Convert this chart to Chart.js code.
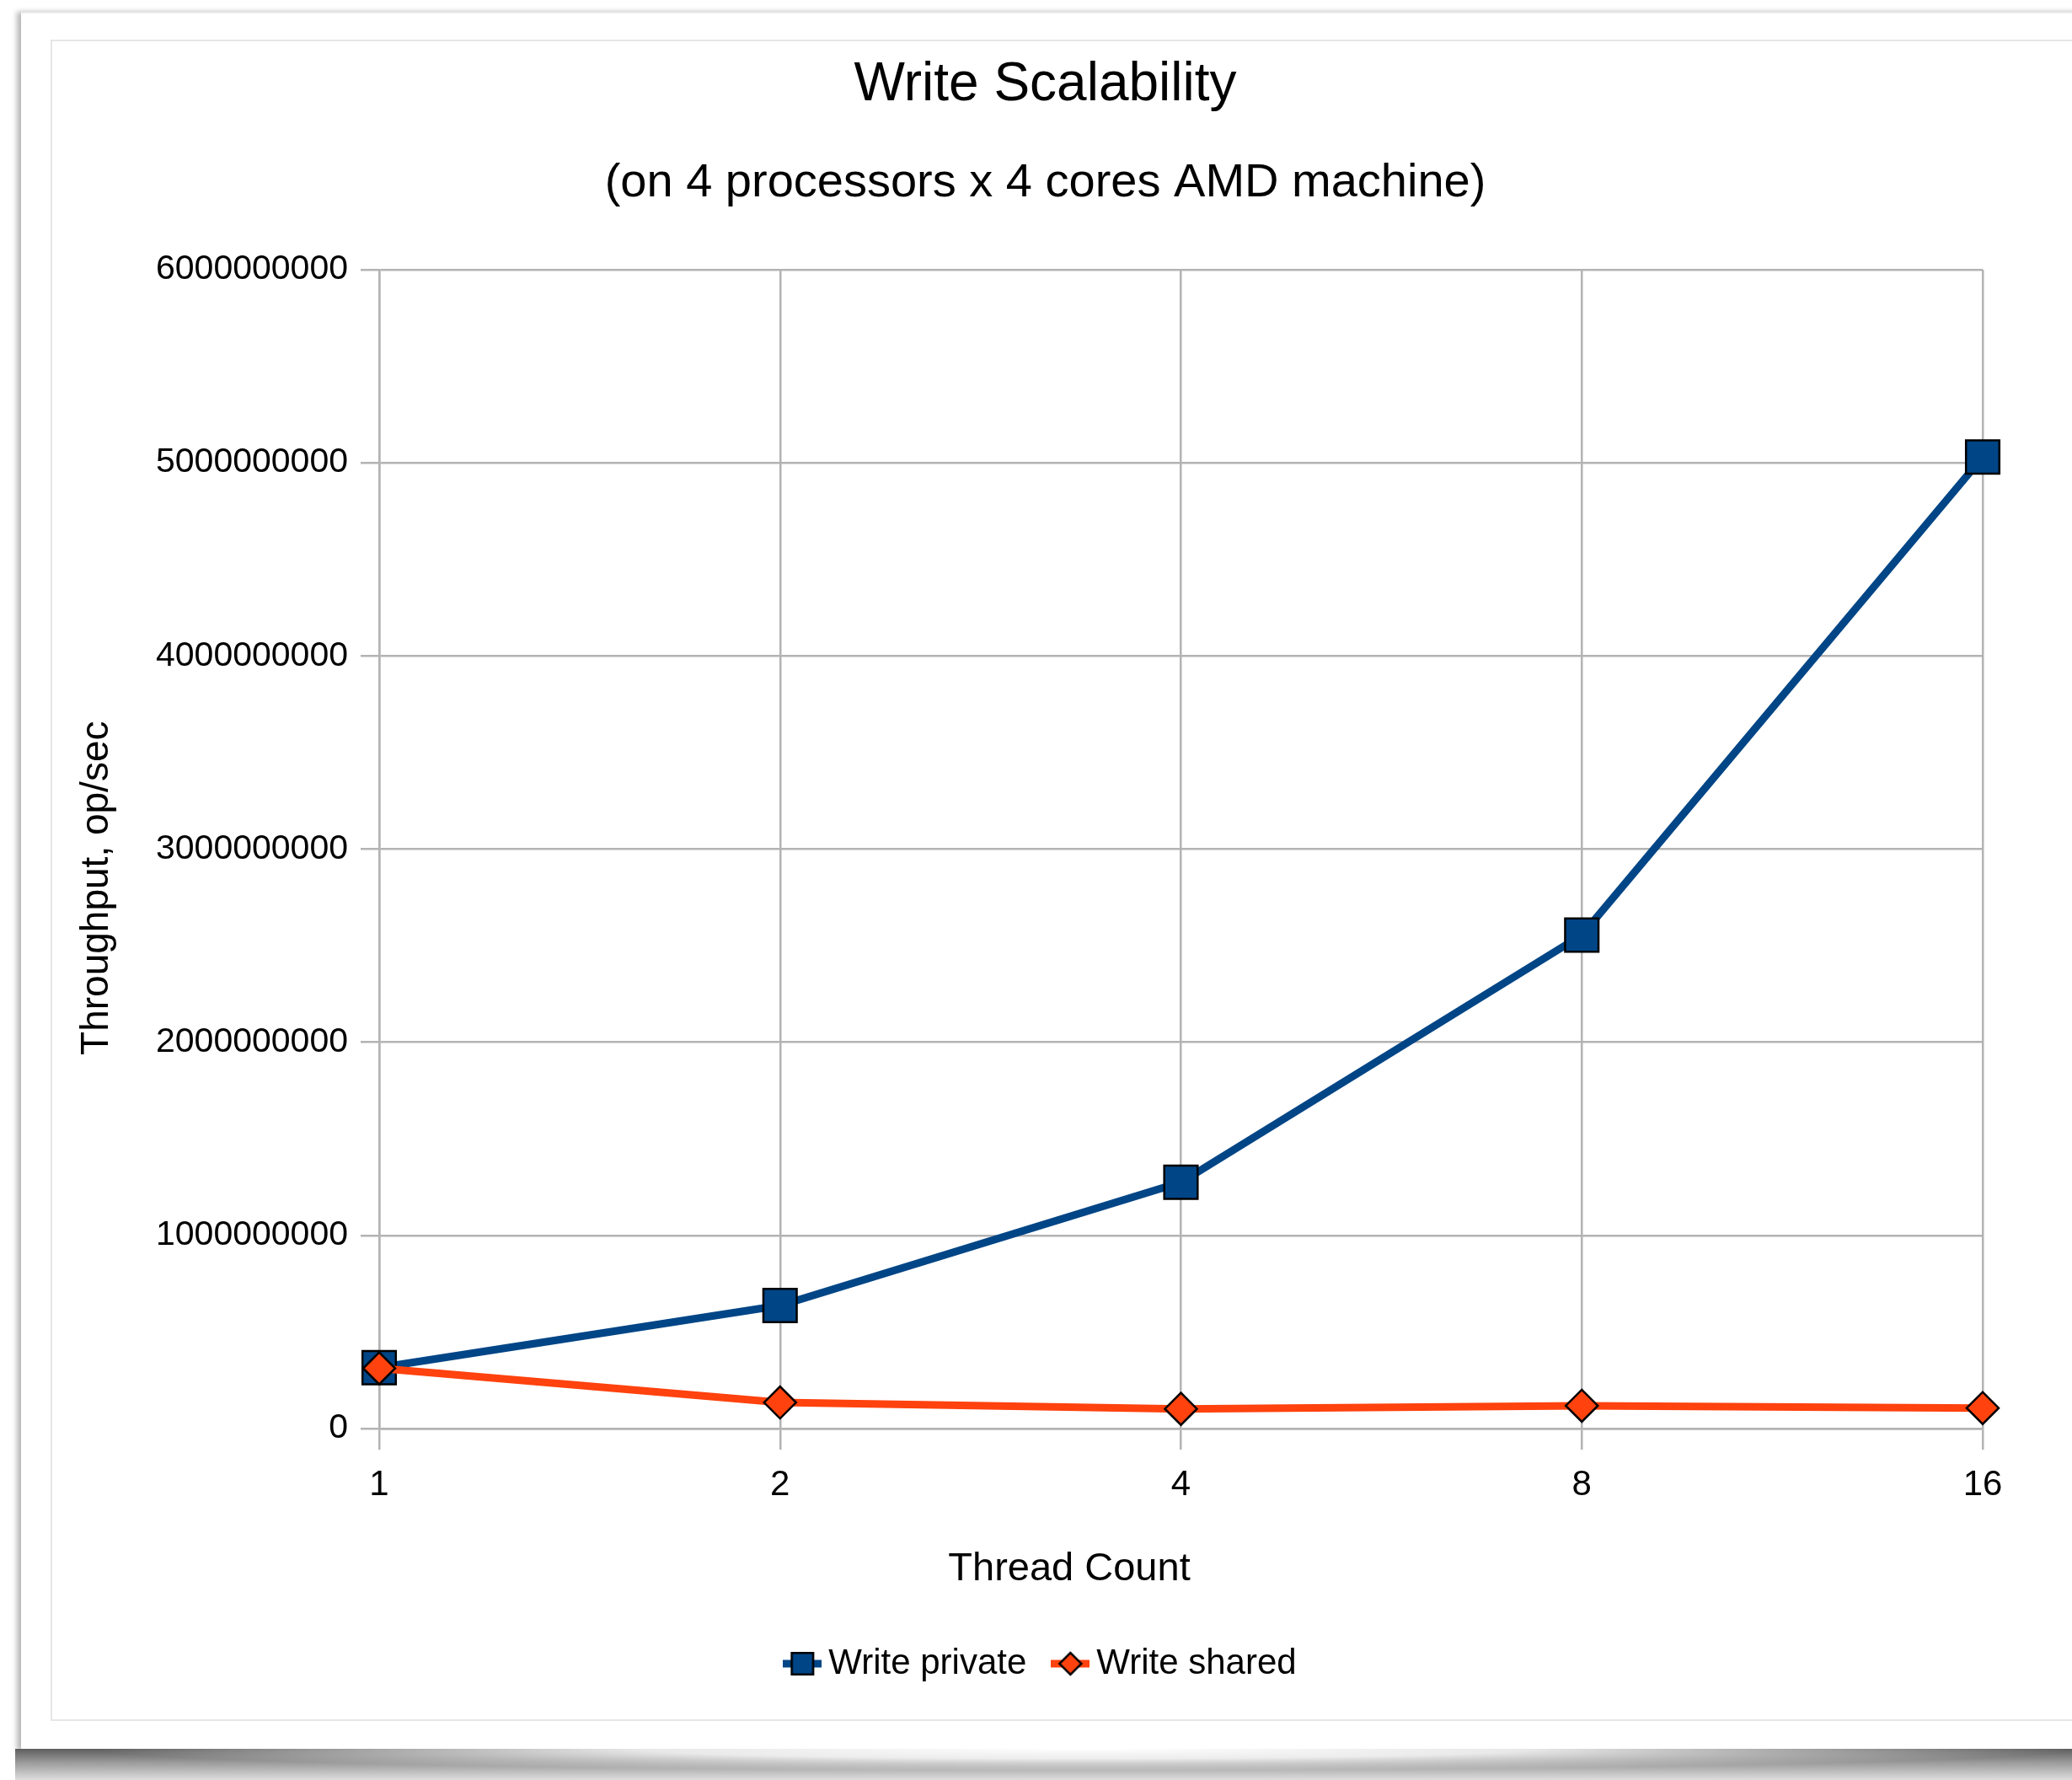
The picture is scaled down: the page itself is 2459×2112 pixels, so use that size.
<!DOCTYPE html>
<html>
<head>
<meta charset="utf-8">
<title>Write Scalability</title>
<script src="https://cdn.jsdelivr.net/npm/chart.js@4.4.1/dist/chart.umd.min.js"></script>
<style>
  html, body { margin: 0; padding: 0; background: #fff; }
  body { width: 2459px; height: 2112px; position: relative; overflow: hidden; }
  .sheet {
    position: absolute; left: 25px; top: 14px; right: -40px; height: 2061px;
    background: #fff; border-top: 2px solid #ededed;
    box-shadow: -5px 0 6px rgba(0, 0, 0, 0.28);
  }
  .frame {
    position: absolute; left: 60px; top: 47px; right: -10px; height: 1995px;
    border: 2px solid #e6e6e6; box-sizing: border-box;
  }
  .curl {
    position: absolute; left: 18px; right: 0; top: 2075px; height: 37px;
    background:
      radial-gradient(ellipse 48% 70% at 52% 0%, #fff 0%, rgba(255,255,255,0.85) 45%, rgba(255,255,255,0) 100%),
      linear-gradient(to bottom, #5e5e5e 0%, #9c9c9c 45%, #dedede 100%);
  }
  .wrap { position: absolute; left: 0; top: 0; width: 2459px; height: 2112px; }
</style>
</head>
<body>
<div class="sheet"></div>
<div class="frame"></div>
<div class="curl"></div>
<div class="wrap"><canvas id="chart"></canvas></div>
<script>
// thread counts on the x axis
const threadCounts = ['1', '2', '4', '8', '16'];

// throughput, op/sec
const writePrivate = [315000000, 637000000, 1275000000, 2555000000, 5030000000];
const writeShared = [312000000, 135000000, 102000000, 118000000, 106000000];

const seriesNames = ['Write private', 'Write shared'];
const seriesColors = ['#004586', '#ff420e'];

const yMax = 6000000000;
const yStep = 1000000000;

const FONT = '"Liberation Sans", Arial, sans-serif';

// little line-with-marker glyph for the legend
function legendSymbol(color, style) {
    const c = document.createElement('canvas');
    c.width = 46;
    c.height = 30;
    const g = c.getContext('2d');
    g.strokeStyle = color;
    g.lineWidth = 9;
    g.beginPath();
    g.moveTo(0, 15);
    g.lineTo(46, 15);
    g.stroke();
    g.fillStyle = color;
    g.strokeStyle = '#000';
    g.lineWidth = 2.5;
    Chart.helpers.drawPoint(g, { pointStyle: style, radius: style === 'rect' ? 18 : 13, borderWidth: 2.5 }, 23, 15);
    return c;
}

const tickLen = { x: 25, y: 22 };
const tickPad = { x: 17, y: 15 };
const tickFont = { x: 42, y: 41 };

// axis titles are centred on the whole diagram (labels included), not just the plot box
const axisTitles = {
    id: 'axisTitles',
    afterDraw(chart) {
        const { ctx, chartArea: area, scales } = chart;
        ctx.save();
        ctx.fillStyle = '#000';
        ctx.textAlign = 'center';
        ctx.textBaseline = 'middle';

        ctx.font = tickFont.y + 'px ' + FONT;
        const widest = Math.max(...scales.y.ticks.map(t => ctx.measureText(String(t.label)).width));
        const labelsLeft = area.left - tickLen.y - tickPad.y - widest;
        const labelsBottom = area.bottom + tickLen.x + tickPad.x + tickFont.x * 1.2;

        ctx.font = '47px ' + FONT;
        ctx.fillText('Thread Count', (labelsLeft + area.right) / 2, area.bottom + 167);

        ctx.translate(area.left - 335, (area.top + labelsBottom) / 2);
        ctx.rotate(-Math.PI / 2);
        ctx.font = '46px ' + FONT;
        ctx.fillText('Throughput, op/sec', 0, 0);
        ctx.restore();
    }
};

const symbols = [legendSymbol(seriesColors[0], 'rect'), legendSymbol(seriesColors[1], 'rectRot')];

new Chart(document.getElementById('chart'), {
    type: 'line',
    data: {
        labels: threadCounts,
        datasets: [
            {
                label: seriesNames[0],
                data: writePrivate,
                borderColor: seriesColors[0],
                backgroundColor: seriesColors[0],
                borderWidth: 9,
                tension: 0,
                pointStyle: 'rect',
                pointRadius: 28,
                pointBackgroundColor: seriesColors[0],
                pointBorderColor: '#000',
                pointBorderWidth: 2.5,
                order: 1
            },
            {
                label: seriesNames[1],
                data: writeShared,
                borderColor: seriesColors[1],
                backgroundColor: seriesColors[1],
                borderWidth: 9,
                tension: 0,
                pointStyle: 'rectRot',
                pointRadius: 19,
                pointBackgroundColor: seriesColors[1],
                pointBorderColor: '#000',
                pointBorderWidth: 2.5,
                order: 0
            }
        ]
    },
    options: {
        responsive: true,
        maintainAspectRatio: false,
        animation: false,
        events: [],
        layout: { padding: { top: 47, left: 60, right: 38, bottom: 107 } },
        scales: {
            x: {
                offset: false,
                grid: { color: '#b3b3b3', lineWidth: 2.5, tickLength: tickLen.x },
                border: { color: '#b3b3b3', width: 2.5 },
                ticks: { color: '#000', padding: tickPad.x, font: { family: FONT, size: tickFont.x } },
                afterFit(scale) { scale.height = 216; }
            },
            y: {
                min: 0,
                max: yMax,
                grid: { color: '#b3b3b3', lineWidth: 2.5, tickLength: tickLen.y },
                border: { color: '#b3b3b3', width: 2.5 },
                ticks: {
                    stepSize: yStep,
                    color: '#000',
                    padding: tickPad.y,
                    font: { family: FONT, size: tickFont.y },
                    callback: v => String(v)
                },
                afterFit(scale) { scale.width = 390; }
            },
            // empty strip on the right so the plot box stops short of the frame
            gap: {
                position: 'right',
                display: true,
                grid: { display: false, drawTicks: false },
                border: { display: false },
                ticks: { display: false },
                afterFit(scale) { scale.width = 68; }
            }
        },
        plugins: {
            title: {
                display: true,
                text: 'Write Scalability',
                color: '#000',
                font: { family: FONT, size: 64, weight: 'normal' },
                padding: { top: 16, bottom: 0 }
            },
            subtitle: {
                display: true,
                text: '(on 4 processors x 4 cores AMD machine)',
                color: '#000',
                font: { family: FONT, size: 56, weight: 'normal' },
                padding: { top: 44.6, bottom: 68.4 }
            },
            legend: {
                display: true,
                position: 'bottom',
                labels: {
                    color: '#000',
                    font: { family: FONT, size: 42 },
                    usePointStyle: true,
                    pointStyleWidth: 20,
                    padding: 42,
                    generateLabels: chart => chart.data.datasets.map((ds, i) => ({
                        text: ds.label,
                        pointStyle: symbols[i],
                        datasetIndex: i,
                        hidden: false,
                        lineWidth: 0,
                        fontColor: '#000'
                    }))
                }
            },
            tooltip: { enabled: false }
        }
    },
    plugins: [axisTitles]
});
</script>
</body>
</html>
